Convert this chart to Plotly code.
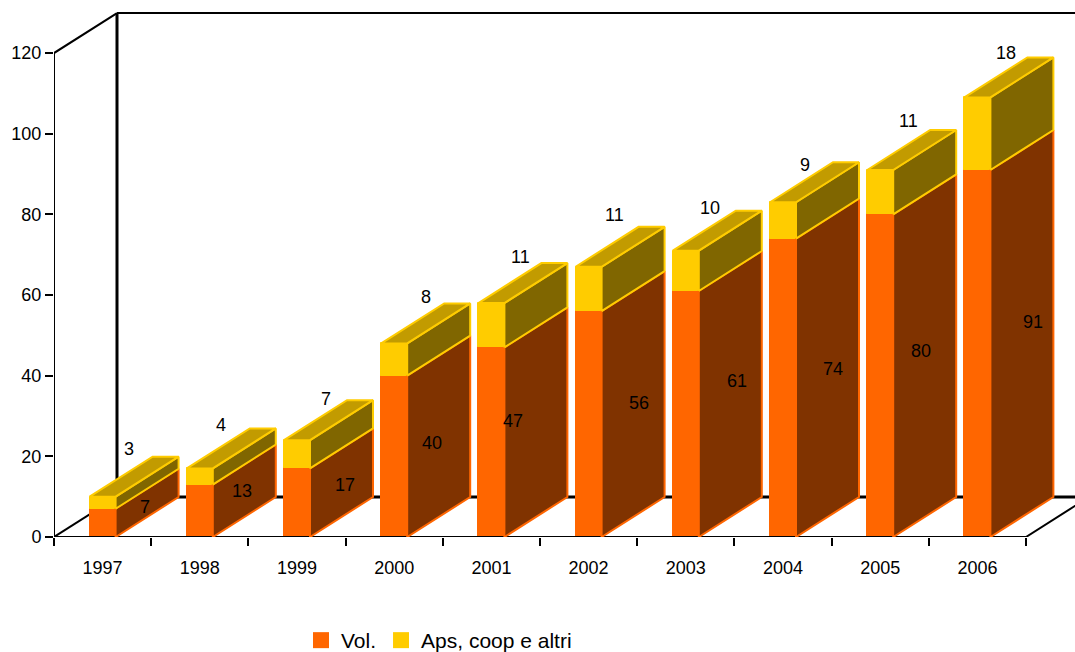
import plotly.graph_objects as go

years = ["1997", "1998", "1999", "2000", "2001", "2002", "2003", "2004", "2005", "2006"]
vol = [7, 13, 17, 40, 47, 56, 61, 74, 80, 91]
aps = [3, 4, 7, 8, 11, 11, 10, 9, 11, 18]
y_ticks = [0, 20, 40, 60, 80, 100, 120]

# label nudges in screen pixels (right, down)
vol_nudge = [(-2, 4), (-2, 0), (3, 2), (-7, 7), (-23, -1), (6, -1), (7, -13), (5, 1), (-4, -5), (11, -12)]
aps_nudge = [(-5, -8), (-10, -3), (-3, -1), (0, -6), (-2, -6), (-6, -12), (-7, -3), (-10, 3), (-3, -9), (-3, -4)]

W, H = 1075, 652
LEFT, BOTTOM = 54, 115
CAT_PX = 97.2
VAL_PX = 4.033
BAR_W = 26 / CAT_PX
DX = 63 / CAT_PX     # depth, category units
DY = 40 / VAL_PX     # depth, value units
X0, X1 = -0.5, -0.5 + (W - LEFT) / CAT_PX
Y1 = (H - BOTTOM) / VAL_PX

ORANGE, YELLOW = "#FF6600", "#FFCC00"
ORANGE_SIDE, YELLOW_SIDE, YELLOW_TOP = "#803300", "#806600", "#C29B00"
FONT = "Liberation Sans"

fig = go.Figure()


def line(xs, ys, width):
    fig.add_trace(go.Scatter(x=xs, y=ys, mode="lines", line=dict(color="black", width=width),
                             showlegend=False, hoverinfo="skip", cliponaxis=False))


def below(x0, y0, x1, y1, width):
    return dict(type="line", layer="below", xref="x", yref="y", x0=x0, y0=y0, x1=x1, y1=y1,
                line=dict(color="black", width=width))


def face(xs, ys, fill, edge):
    fig.add_trace(go.Scatter(x=xs, y=ys, mode="lines", fill="toself", fillcolor=fill,
                             line=dict(color=edge, width=2), showlegend=False,
                             hoverinfo="skip", cliponaxis=False))


# parts of the fake 3D box that stay in front or do not touch a bar
line([X0, X0, X0 + DX], [0, 120, 120 + DY], 2)
line([X0, 9.5, 9.5 + DX], [0, 0, DY], 2)

# parts of the box behind the bars
shapes = [
    below(X0 + DX, 120 + DY, X1, 120 + DY, 2),
    below(X0 + DX, DY, X0 + DX, 120 + DY, 3),
    below(X0 + DX, DY, X1, DY, 3),
    below(X0, 0, X0 + DX, DY, 2),
]

# front faces
positions = list(range(len(years)))
fig.add_trace(go.Bar(x=positions, y=vol, name="Vol.", width=BAR_W, showlegend=False,
                     marker=dict(color=ORANGE, line=dict(color=ORANGE, width=1))))
fig.add_trace(go.Bar(x=positions, y=aps, base=vol, name="Aps, coop e altri", width=BAR_W, showlegend=False,
                     marker=dict(color=YELLOW, line=dict(color=YELLOW, width=1))))

annotations = []
for i, (v, a) in enumerate(zip(vol, aps)):
    l, r = i - BAR_W / 2, i + BAR_W / 2
    t = v + a
    face([r, r + DX, r + DX, r, r], [0, DY, v + DY, v, 0], ORANGE_SIDE, ORANGE)
    face([r, r + DX, r + DX, r, r], [v, v + DY, t + DY, t, v], YELLOW_SIDE, YELLOW)
    face([l, l + DX, r + DX, r, l], [t, t + DY, t + DY, t, t], YELLOW_TOP, YELLOW)

    annotations.append(dict(x=r + DX / 2, y=v / 2 + DY / 2, text=str(v), showarrow=False,
                            xshift=vol_nudge[i][0], yshift=-vol_nudge[i][1]))
    annotations.append(dict(x=i + DX / 2, y=t + DY, text=str(a), showarrow=False,
                            xshift=aps_nudge[i][0], yshift=-aps_nudge[i][1]))

# legend entries with 16 px square swatches
for name, colour in (("Vol.", ORANGE), ("Aps, coop e altri", YELLOW)):
    fig.add_trace(go.Scatter(x=[None], y=[None], mode="markers", name=name,
                             marker=dict(symbol="square", color=colour, size=16)))

fig.update_layout(
    width=W, height=H, autosize=False,
    margin=dict(l=LEFT, r=0, t=0, b=BOTTOM, pad=0, autoexpand=False),
    paper_bgcolor="white", plot_bgcolor="white",
    barmode="overlay", bargap=0,
    font=dict(family=FONT, size=18, color="black"),
    annotations=annotations,
    shapes=shapes,
    showlegend=True,
    legend=dict(orientation="h", xref="container", yref="container",
                x=301 / W, xanchor="left", y=1 - 620 / H, yanchor="top",
                font=dict(family=FONT, size=21), traceorder="normal",
                itemsizing="trace", itemwidth=30,
                bgcolor="rgba(0,0,0,0)"),
    xaxis=dict(range=[X0, X1], tickmode="array", tickvals=positions, ticktext=years,
               ticks="", showgrid=False, zeroline=False, showline=False, automargin=False,
               ticklabelstandoff=18,
               minor=dict(tickmode="linear", tick0=-0.5, dtick=1, ticks="outside", ticklen=8,
                          tickwidth=2, tickcolor="black", showgrid=False)),
    yaxis=dict(range=[0, Y1], tickmode="array", tickvals=y_ticks, ticks="outside", ticklen=8,
               tickwidth=2, tickcolor="black", showgrid=False, zeroline=False, showline=False,
               automargin=False),
)

fig.write_html("out.html", config={"displayModeBar": False},
               post_script="document.body.style.margin='0';document.body.style.overflow='hidden';")
